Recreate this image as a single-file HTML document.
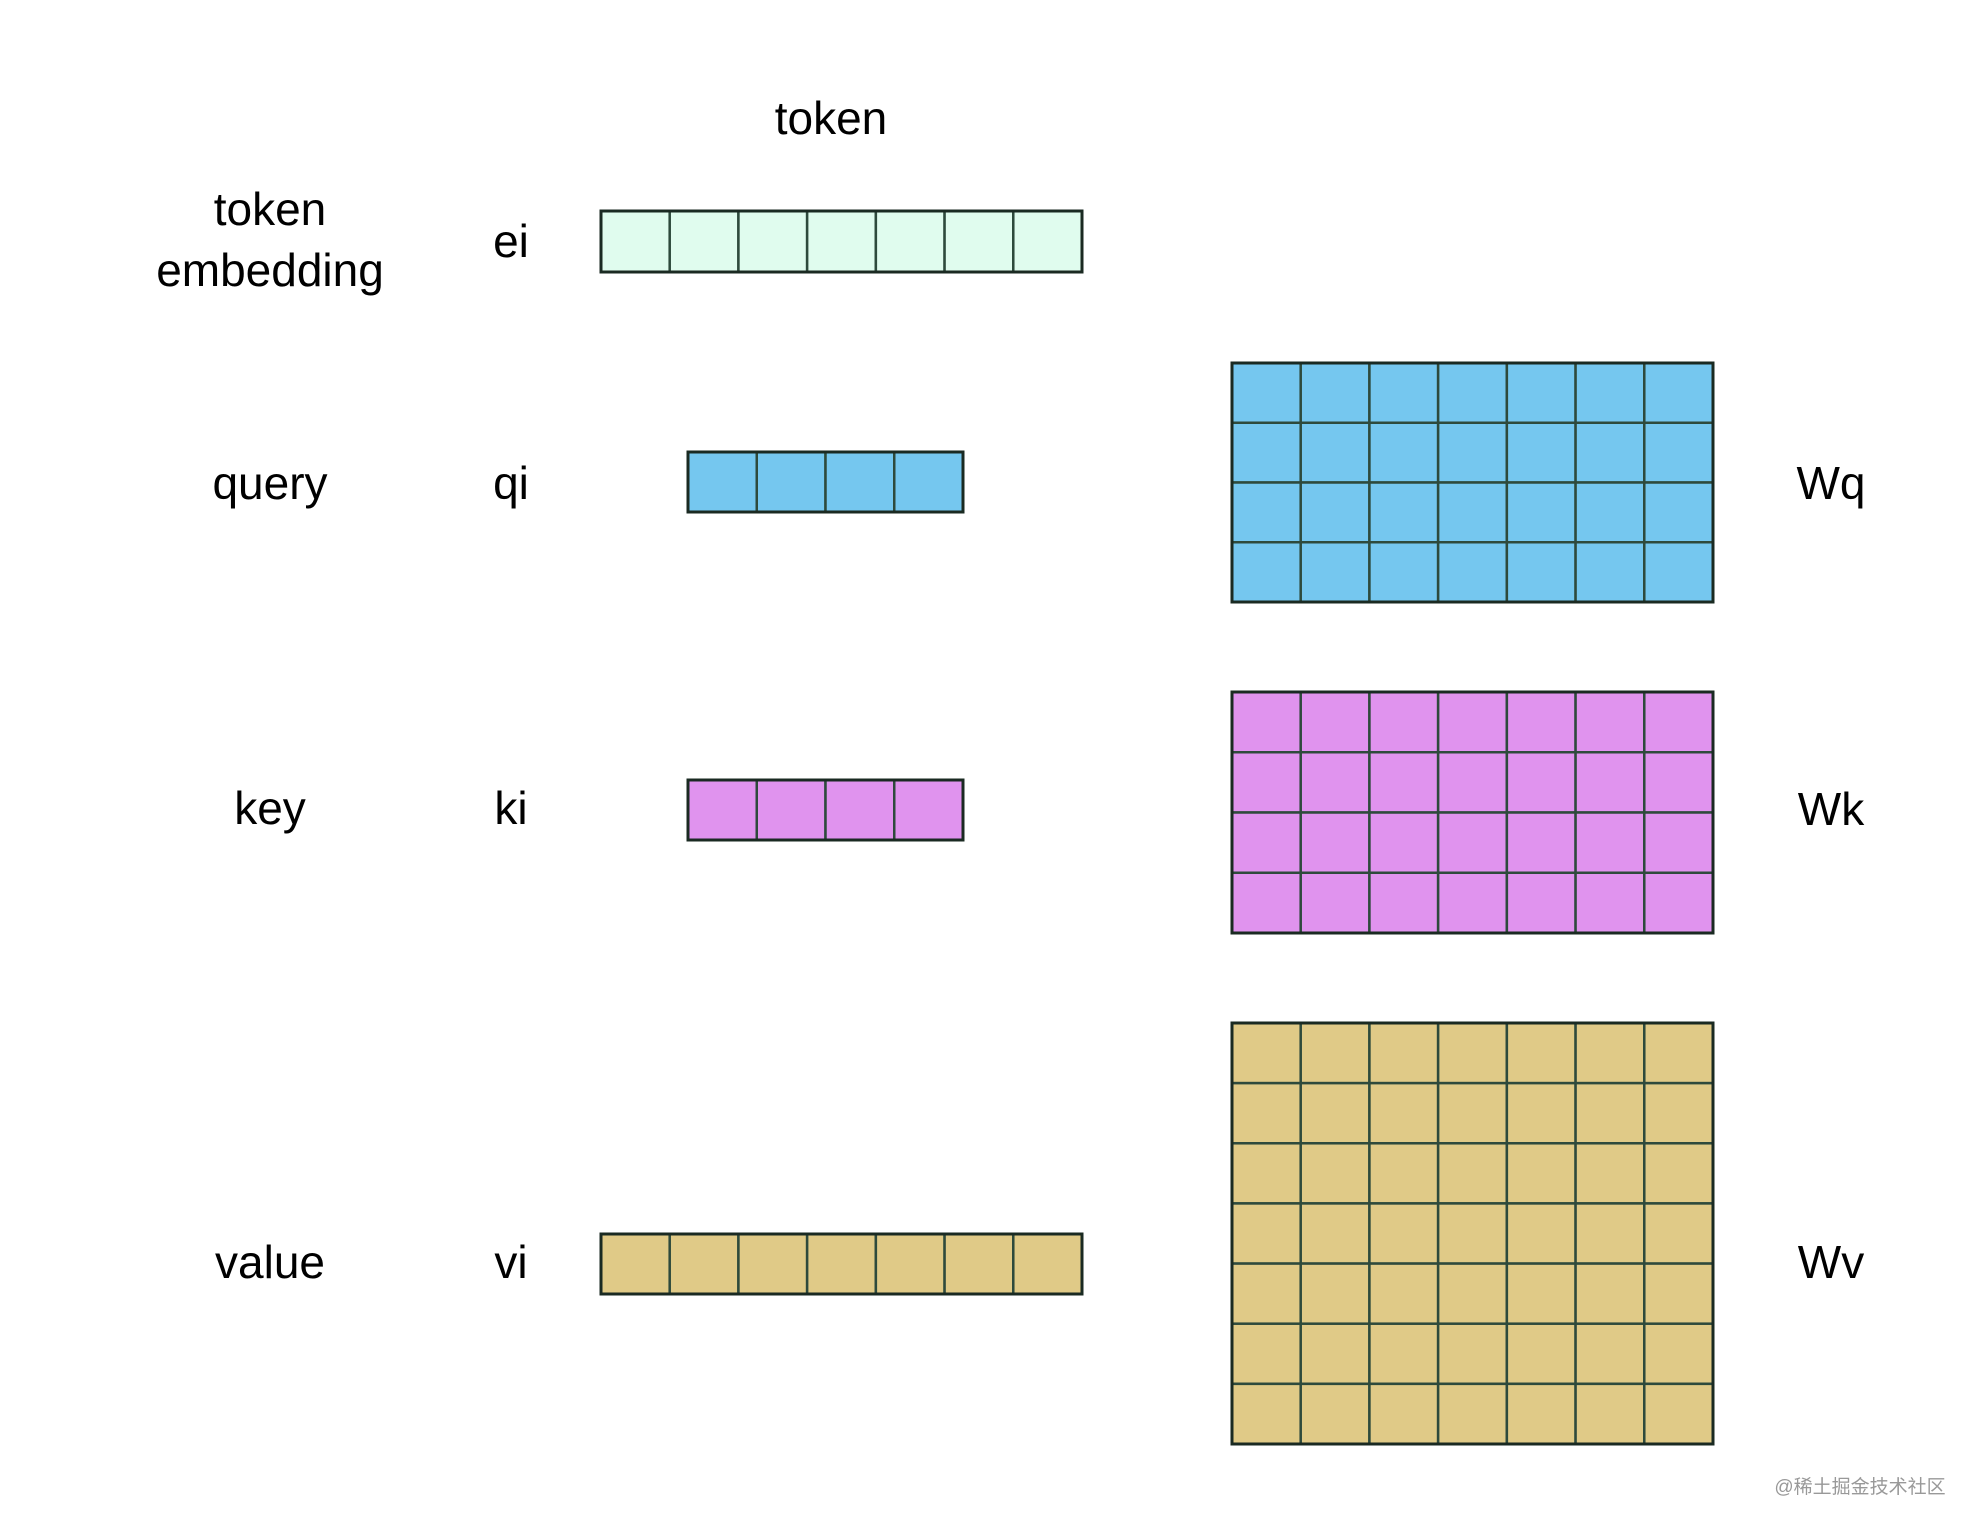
<!DOCTYPE html>
<html><head><meta charset="utf-8"><style>
html,body{margin:0;padding:0;background:#fff;}
svg{display:block;}
text{font-family:"Liberation Sans","Noto Sans CJK SC",sans-serif;fill:#000;}
</style></head><body>
<svg id="d" width="1983" height="1533" viewBox="0 0 1983 1533">
<text x="831" y="134" font-size="46" text-anchor="middle">token</text>
<text x="270" y="225" font-size="46" text-anchor="middle">token</text>
<text x="270" y="286" font-size="46" text-anchor="middle">embedding</text>
<text x="270" y="499" font-size="46" text-anchor="middle">query</text>
<text x="270" y="824" font-size="46" text-anchor="middle">key</text>
<text x="270" y="1278" font-size="46" text-anchor="middle">value</text>
<text x="511" y="257" font-size="46" text-anchor="middle">ei</text>
<text x="511" y="499" font-size="46" text-anchor="middle">qi</text>
<text x="511" y="824" font-size="46" text-anchor="middle">ki</text>
<text x="511" y="1278" font-size="46" text-anchor="middle">vi</text>
<text x="1831" y="499" font-size="46" text-anchor="middle">Wq</text>
<text x="1831" y="825" font-size="46" text-anchor="middle">Wk</text>
<text x="1831" y="1278" font-size="46" text-anchor="middle">Wv</text>
<text x="1860" y="1493" font-size="19" text-anchor="middle" style="fill:#999">@稀土掘金技术社区</text>
<g id="grids"></g>
</svg>
<script>
const gridNames = ["ei","qi","ki","vi","wq","wk","wv"];
const gridCols = [7,4,4,7,7,7,7];
const gridRows = [1,1,1,1,4,4,7];
const gridFills = ["#E0FCEE","#75C7EF","#E093EE","#E0CA87","#75C7EF","#E093EE","#E0CA87"];
const gridBoxes = [[601,211,1082,272],[688,452,963,512],[688,780,963,840],[601,1234,1082,1294],[1232,363,1713,602],[1232,692,1713,933],[1232,1023,1713,1444]];
const NS="http://www.w3.org/2000/svg";
const g=document.getElementById('grids');
gridNames.forEach((n,i)=>{
  const [x0,y0,x1,y1]=gridBoxes[i];
  const cw=(x1-x0)/gridCols[i], ch=(y1-y0)/gridRows[i];
  const grp=document.createElementNS(NS,'g');
  
  
  for(let r=0;r<gridRows[i];r++)for(let c=0;c<gridCols[i];c++){
    const rc=document.createElementNS(NS,'rect');
    rc.setAttribute('x',x0+c*cw);rc.setAttribute('y',y0+r*ch);
    rc.setAttribute('width',cw);rc.setAttribute('height',ch);
    rc.setAttribute('fill',gridFills[i]);rc.setAttribute('stroke','#2E4A3C');rc.setAttribute('stroke-width','2.5');
    
    
    grp.appendChild(rc);
  }
  const o=document.createElementNS(NS,'rect');
  o.setAttribute('x',x0);o.setAttribute('y',y0);o.setAttribute('width',x1-x0);o.setAttribute('height',y1-y0);
  o.setAttribute('fill','none');o.setAttribute('stroke','#1a2a22');o.setAttribute('stroke-width','3');
  
  
  grp.appendChild(o);
  g.appendChild(grp);
});
</script>
</body></html>
